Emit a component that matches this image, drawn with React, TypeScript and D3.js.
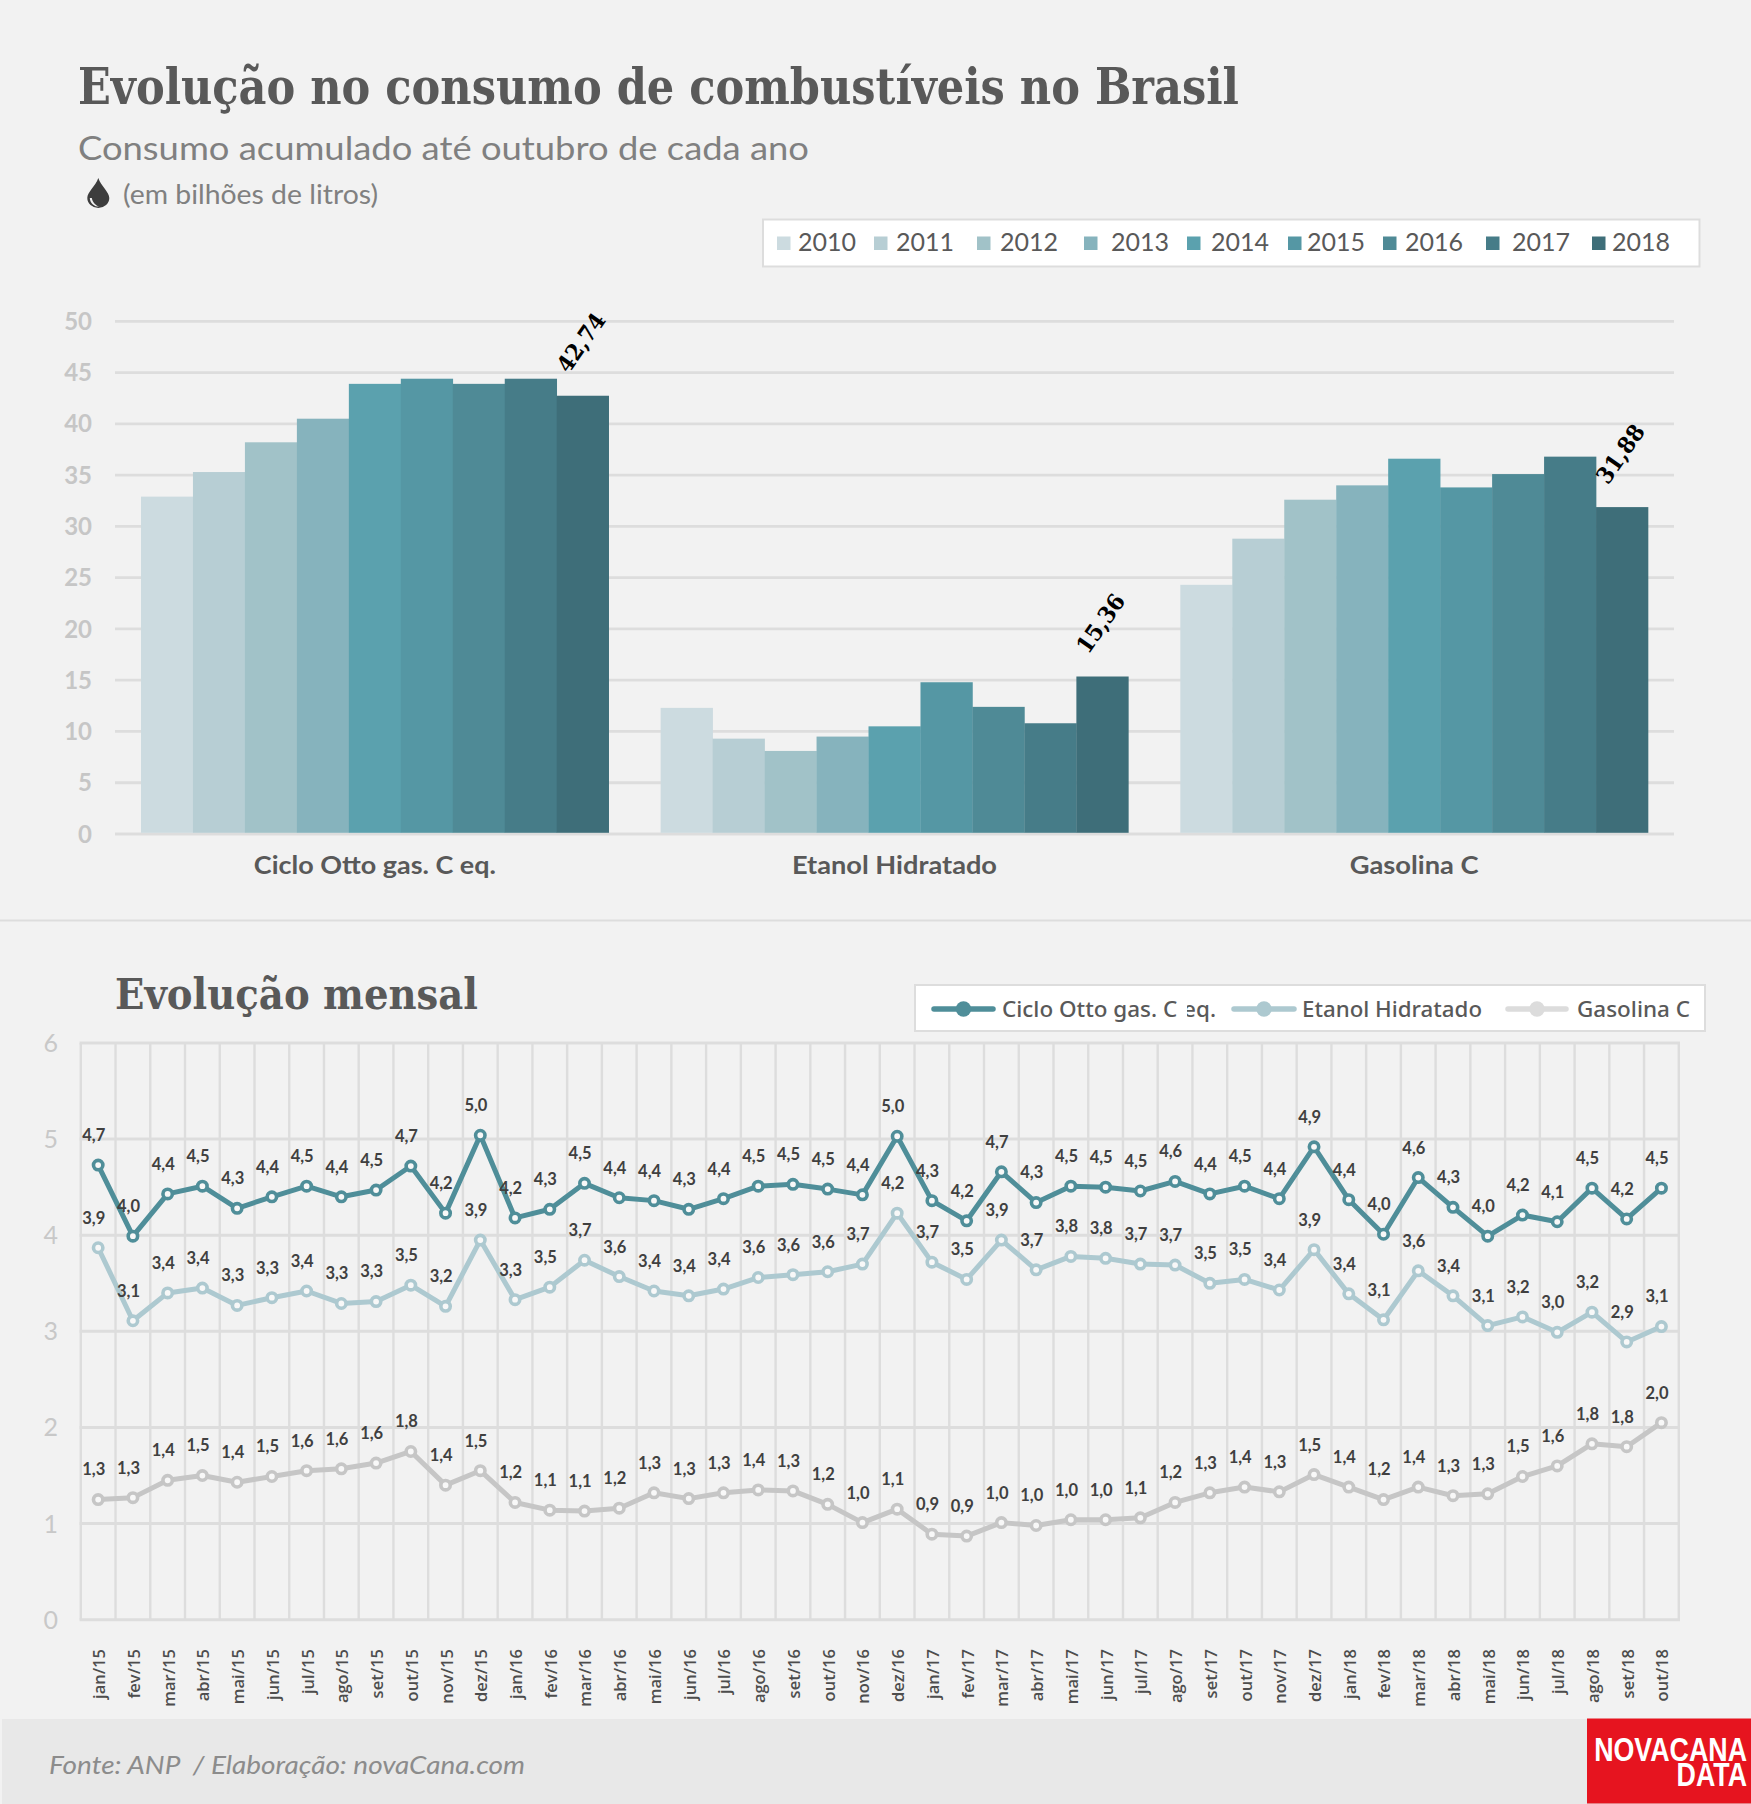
import React from "react";
import * as d3 from "d3";

const W = 1751, H = 1804;
const SLAB = "'DejaVu Serif Condensed','DejaVu Serif',serif";
const SANS = "Lato,'Noto Sans',sans-serif";
const NOTO = "'Noto Sans',Lato,sans-serif";
const LOGO = "'Liberation Sans',sans-serif";

// ---- Annual chart data
const years = ["2010","2011","2012","2013","2014","2015","2016","2017","2018"];
const yearColors = ["#ccdbe0","#b7ced4","#a1c2c8","#86b3bd","#5ba1ae","#5597a4","#4f8a96","#467c88","#3e6e79"];
const fuels = ["Ciclo Otto gas. C eq.","Etanol Hidratado","Gasolina C"];
const cicloAnnual = [32.9,35.3,38.2,40.5,43.9,44.4,43.9,44.4,42.74];
const etanolAnnual = [12.3,9.3,8.1,9.5,10.5,14.8,12.4,10.8,15.36];
const gasolinaAnnual = [24.3,28.8,32.6,34.0,36.6,33.8,35.1,36.8,31.88];
const annualLabels = ["42,74","15,36","31,88"];
const annualTicks = [0,5,10,15,20,25,30,35,40,45,50];
const legendSquareX = [777,874,977,1084,1187,1288,1383,1486,1592];
const legendTextX = [798,896,1000,1111,1211,1307,1405,1512,1612];
const categoryWidths = [242,205,129];

// ---- Monthly chart data
const months = [
 "jan/15","fev/15","mar/15","abr/15","mai/15","jun/15","jul/15","ago/15","set/15","out/15","nov/15","dez/15",
 "jan/16","fev/16","mar/16","abr/16","mai/16","jun/16","jul/16","ago/16","set/16","out/16","nov/16","dez/16",
 "jan/17","fev/17","mar/17","abr/17","mai/17","jun/17","jul/17","ago/17","set/17","out/17","nov/17","dez/17",
 "jan/18","fev/18","mar/18","abr/18","mai/18","jun/18","jul/18","ago/18","set/18","out/18"];
const cicloMonthly = [4.73,3.99,4.43,4.51,4.28,4.40,4.51,4.40,4.47,4.72,4.23,5.04,
 4.18,4.27,4.54,4.39,4.36,4.27,4.38,4.51,4.53,4.48,4.42,5.03,
 4.36,4.15,4.66,4.34,4.51,4.50,4.46,4.56,4.43,4.51,4.38,4.92,
 4.37,4.01,4.60,4.29,3.99,4.21,4.14,4.49,4.17,4.49];
const etanolMonthly = [3.87,3.11,3.40,3.45,3.27,3.35,3.42,3.29,3.31,3.48,3.26,3.95,
 3.33,3.46,3.74,3.57,3.42,3.37,3.44,3.56,3.59,3.62,3.70,4.23,
 3.72,3.54,3.95,3.64,3.78,3.76,3.70,3.69,3.50,3.54,3.43,3.85,
 3.39,3.12,3.63,3.37,3.06,3.15,2.99,3.20,2.89,3.05];
const gasolinaMonthly = [1.25,1.27,1.45,1.50,1.43,1.49,1.55,1.57,1.63,1.75,1.40,1.55,
 1.22,1.14,1.13,1.16,1.32,1.26,1.32,1.35,1.34,1.20,1.01,1.15,
 0.89,0.87,1.01,0.98,1.04,1.04,1.06,1.22,1.32,1.38,1.33,1.51,
 1.38,1.25,1.38,1.29,1.31,1.49,1.60,1.83,1.80,2.05];
const cicloLabels = ["4,7","4,0","4,4","4,5","4,3","4,4","4,5","4,4","4,5","4,7","4,2","5,0",
 "4,2","4,3","4,5","4,4","4,4","4,3","4,4","4,5","4,5","4,5","4,4","5,0",
 "4,3","4,2","4,7","4,3","4,5","4,5","4,5","4,6","4,4","4,5","4,4","4,9",
 "4,4","4,0","4,6","4,3","4,0","4,2","4,1","4,5","4,2","4,5"];
const etanolLabels = ["3,9","3,1","3,4","3,4","3,3","3,3","3,4","3,3","3,3","3,5","3,2","3,9",
 "3,3","3,5","3,7","3,6","3,4","3,4","3,4","3,6","3,6","3,6","3,7","4,2",
 "3,7","3,5","3,9","3,7","3,8","3,8","3,7","3,7","3,5","3,5","3,4","3,9",
 "3,4","3,1","3,6","3,4","3,1","3,2","3,0","3,2","2,9","3,1"];
const gasolinaLabels = ["1,3","1,3","1,4","1,5","1,4","1,5","1,6","1,6","1,6","1,8","1,4","1,5",
 "1,2","1,1","1,1","1,2","1,3","1,3","1,3","1,4","1,3","1,2","1,0","1,1",
 "0,9","0,9","1,0","1,0","1,0","1,0","1,1","1,2","1,3","1,4","1,3","1,5",
 "1,4","1,2","1,4","1,3","1,3","1,5","1,6","1,8","1,8","2,0"];
const monthlyTicks = [0,1,2,3,4,5,6];
const monthlyColors = ["#4f8e99","#adc9d0","#c6c6c6"];
const legendLineColors = ["#4f8e99","#adc9d0","#dcdcdc"];
const legendLine2X = [[934,993],[1234,1294],[1508,1566]];
const legendLabelX = [[1002,1216],[1302,1482],[1577,1690]];

const GRID = "#dddddd";
const BG = "#f2f2f2";

export default function App() {
  const yA = d3.scaleLinear().domain([0,50]).range([834,321.3]);
  const xA = d3.scaleBand<string>().domain(fuels).range([115,1674]).paddingInner(0.1).paddingOuter(0.05);
  const xY = d3.scaleBand<string>().domain(years).range([0,xA.bandwidth()]);
  const annual = [cicloAnnual,etanolAnnual,gasolinaAnnual];

  const yM = d3.scaleLinear().domain([0,6]).range([1619.7,1043]);
  const xM = d3.scaleBand<string>().domain(months).range([80.8,1678.8]);
  const px = (m:string)=> (xM(m) as number)+xM.bandwidth()/2;
  const monthly = [
    {v:gasolinaMonthly,l:gasolinaLabels,c:monthlyColors[2]},
    {v:etanolMonthly,l:etanolLabels,c:monthlyColors[1]},
    {v:cicloMonthly,l:cicloLabels,c:monthlyColors[0]},
  ];
  const line = d3.line<number>().x((_,i)=>px(months[i])).y(d=>yM(d));

  return (
    <svg width={W} height={H} viewBox={`0 0 ${W} ${H}`} style={{position:"absolute",left:0,top:0,display:"block"}} xmlns="http://www.w3.org/2000/svg">
      <rect width={W} height={H} fill={BG}/>
      {/* Titles */}
      <text x={78} y={104} fontFamily={SLAB} fontWeight={700} fontSize={50} fill="#595959" textLength={1161} lengthAdjust="spacingAndGlyphs">Evolução no consumo de combustíveis no Brasil</text>
      <text x={78} y={160} fontFamily={SANS} fontSize={32} fill="#808080" textLength={731} lengthAdjust="spacingAndGlyphs">Consumo acumulado até outubro de cada ano</text>
      <text x={123} y={204} fontFamily={SANS} fontSize={27} fill="#808080" textLength={255} lengthAdjust="spacingAndGlyphs">(em bilhões de litros)</text>
      <path d="M98.3 178 C101 186 109.300 192 109.300 198 A11 10 0 0 1 87.300 198 C87.300 192 95.600 186 98.300 178 Z" fill="#3d3d3d"/>
      <path d="M89.800 198 C90 203 94 206.800 99.500 206.800 C95.500 205.200 92.500 202.500 91.800 198 Z" fill="#f2f2f2"/>

      {/* Legend years */}
      <rect x={763} y={219.500} width={936.500} height={47} fill="#fff" stroke={GRID} strokeWidth={2}/>
      {years.map((y,i)=>(
        <g key={y}>
          <rect x={legendSquareX[i]} y={236.500} width={13.500} height={13.500} fill={yearColors[i]}/>
          <text x={legendTextX[i]} y={251} fontFamily={SANS} fontSize={25} fill="#595959">{y}</text>
        </g>
      ))}

      {/* Annual grid */}
      {annualTicks.map(t=>(
        <g key={t}>
          <line x1={115} x2={1674} y1={yA(t)} y2={yA(t)} stroke={GRID} strokeWidth={2.8}/>
          <text x={92} y={yA(t)} dy="0.36em" textAnchor="end" fontFamily={SANS} fontWeight={700} fontSize={24} fill="#c6c6c6">{t}</text>
        </g>
      ))}
      {/* Annual bars */}
      {fuels.map((f,fi)=>(
        <g key={f}>
          {years.map((y,i)=>(
            <rect key={y} x={(xA(f) as number)+(xY(y) as number)} y={yA(annual[fi][i])} width={xY.bandwidth()+0.3}
              height={yA(0)-yA(annual[fi][i])-1.2} fill={yearColors[i]}/>
          ))}
          <text transform={`translate(${(xA(f) as number)+(xY("2018") as number)+xY.bandwidth()/2},${yA(annual[fi][8])-52}) rotate(-55)`}
            textAnchor="middle" dominantBaseline="middle" fontFamily={SLAB} fontWeight={700} fontSize={23} fill="#000" textLength={66} lengthAdjust="spacingAndGlyphs">{annualLabels[fi]}</text>
          <text x={(xA(f) as number)+xA.bandwidth()/2-categoryWidths[fi]/2} y={874} fontFamily={SANS} fontWeight={700} fontSize={24} fill="#595959" textLength={categoryWidths[fi]} lengthAdjust="spacingAndGlyphs">{f}</text>
        </g>
      ))}

      <line x1={0} x2={W} y1={920.500} y2={920.500} stroke={GRID} strokeWidth={2}/>

      {/* Monthly title and legend */}
      <text x={115} y={1009} fontFamily={SLAB} fontWeight={700} fontSize={42} fill="#595959" textLength={363} lengthAdjust="spacingAndGlyphs">Evolução mensal</text>
      <rect x={915} y={985} width={790} height={46} fill="#fff" stroke={GRID} strokeWidth={2}/>
      {fuels.map((f,i)=>(
        <g key={f}>
          <line x1={legendLine2X[i][0]} x2={legendLine2X[i][1]} y1={1009} y2={1009} stroke={legendLineColors[i]} strokeWidth={5.500} strokeLinecap="round"/>
          <circle cx={(legendLine2X[i][0]+legendLine2X[i][1])/2} cy={1009} r={7.700} fill={legendLineColors[i]}/>
          <text x={legendLabelX[i][0]} y={1017} fontFamily={NOTO} fontWeight={500} fontSize={22.500} fill="#595959" textLength={legendLabelX[i][1]-legendLabelX[i][0]} lengthAdjust="spacingAndGlyphs">{f}</text>
        </g>
      ))}
      <rect x={1179} y={1000} width={8} height={24} fill="#fff"/>

      {/* Monthly grid */}
      {d3.range(months.length+1).map(i=>{
        const x = 80.8+i*xM.step();
        return <line key={i} x1={x} x2={x} y1={1043} y2={1619.7} stroke={GRID} strokeWidth={2.4}/>;
      })}
      {monthlyTicks.map(t=>(
        <g key={t}>
          <line x1={79.600} x2={1680} y1={yM(t)} y2={yM(t)} stroke={GRID} strokeWidth={3}/>
          <text x={58} y={yM(t)} dy="0.36em" textAnchor="end" fontFamily={SANS} fontSize={25} fill="#c8c8c8">{t}</text>
        </g>
      ))}
      {/* Monthly lines */}
      {monthly.map(s=>(
        <g key={s.c}>
          <path d={line(s.v) as string} fill="none" stroke={s.c} strokeWidth={5} strokeLinejoin="round"/>
          {s.v.map((v,i)=>(
            <circle key={i} cx={px(months[i])} cy={yM(v)} r={4.700} fill="#f8f8f8" stroke={s.c} strokeWidth={3.600}/>
          ))}
        </g>
      ))}
      {monthly.map(s=>(
        <g key={s.c+"l"}>
          {s.v.map((v,i)=>(
            <text key={i} x={px(months[i])-4.400} y={yM(v)-30} dy="0.36em" textAnchor="middle" fontFamily={SANS} fontWeight={700} fontSize={16.500} fill="#404040">{s.l[i]}</text>
          ))}
        </g>
      ))}
      {months.map(m=>(
        <text key={m} transform={`translate(${px(m)+1},1649) rotate(-90)`} dy="0.36em" textAnchor="end" fontFamily="'Open Sans',sans-serif" fontWeight={600} fontSize={16.500} fill="#4d4d4d">{m}</text>
      ))}

      {/* Footer */}
      <rect x={2} y={1719} width={W-2} height={85} fill="#e8e8e8"/>
      <text x={49} y={1774} fontFamily={SANS} fontStyle="italic" fontSize={26} fill="#8c8c8c" textLength={476} lengthAdjust="spacingAndGlyphs">{"Fonte: ANP\u00A0\u00A0/ Elaboração: novaCana.com"}</text>
      <rect x={1587} y={1718.500} width={164} height={85} fill="#e6141f"/>
      <text transform="translate(1747,1761) scale(0.8,1)" textAnchor="end" fontFamily={LOGO} fontWeight={700} fontSize={33.500} fill="#fff">NOVACANA</text>
      <text transform="translate(1747,1786) scale(0.8,1)" textAnchor="end" fontFamily={LOGO} fontWeight={700} fontSize={33.500} fill="#fff">DATA</text>
    </svg>
  );
}
